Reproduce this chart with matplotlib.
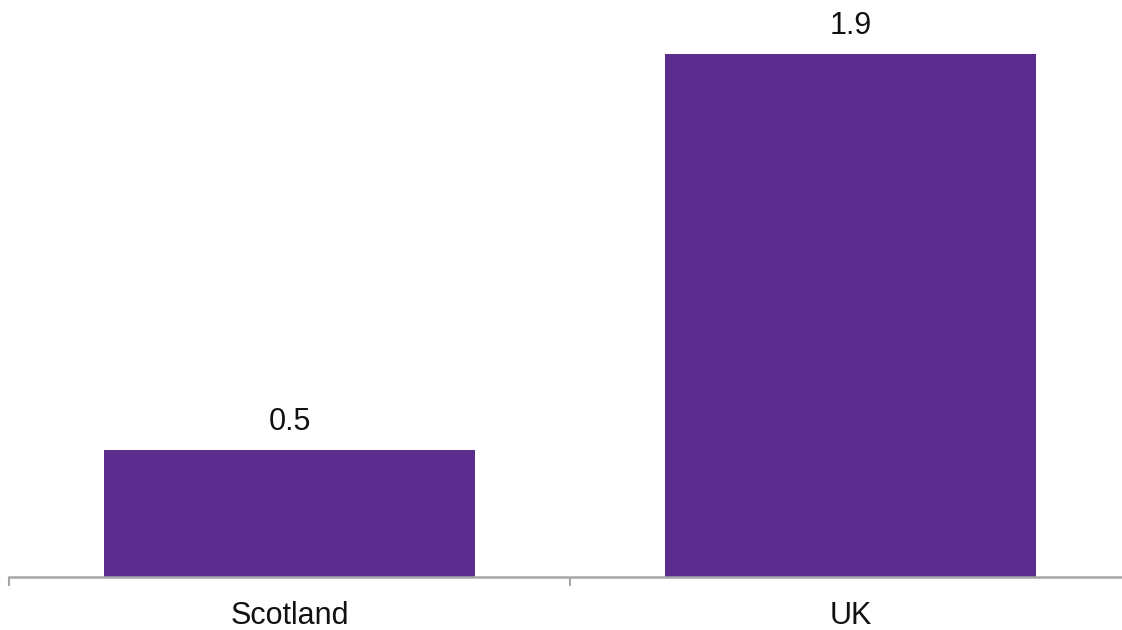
import matplotlib
matplotlib.use("Agg")
import matplotlib.pyplot as plt

categories = ["Scotland", "UK"]
values = [0.46, 1.9]
labels = ["0.5", "1.9"]

plt.rcParams['font.family'] = ['Liberation Sans', 'DejaVu Sans']

fig = plt.figure(figsize=(11.22, 6.3), dpi=100)
ax = fig.add_axes([9/1122, 53/630, 1122/1122, 577/630])

x = list(range(len(categories)))
bars = ax.bar(x, values, width=0.663, color="#5B2D8E", zorder=2)
for xi, v, lab in zip(x, values, labels):
    ax.annotate(lab, (xi, v), xytext=(0, 10), textcoords="offset points",
                ha="center", va="bottom", fontsize=22, color="#111111")

ax.set_xlim(-0.5, 1.5)
ax.set_ylim(0, 2.098)
ax.set_xticks([-0.5, 0.5, 1.5], minor=False)
ax.set_xticklabels([])
ax.set_xticks(x, minor=True)
ax.set_xticklabels(categories, minor=True, fontsize=22, color="#111111")
ax.tick_params(axis="x", which="major", length=6.5, width=1.5, color="#A6A6A6", direction="out")
ax.tick_params(axis="x", which="minor", length=0, pad=17)
ax.set_yticks([])
for s in ["top", "right", "left"]:
    ax.spines[s].set_visible(False)
ax.spines["bottom"].set_color("#A6A6A6")
ax.spines["bottom"].set_linewidth(1.8)
ax.spines["bottom"].set_zorder(3)

fig.savefig("out.png", dpi=100)
